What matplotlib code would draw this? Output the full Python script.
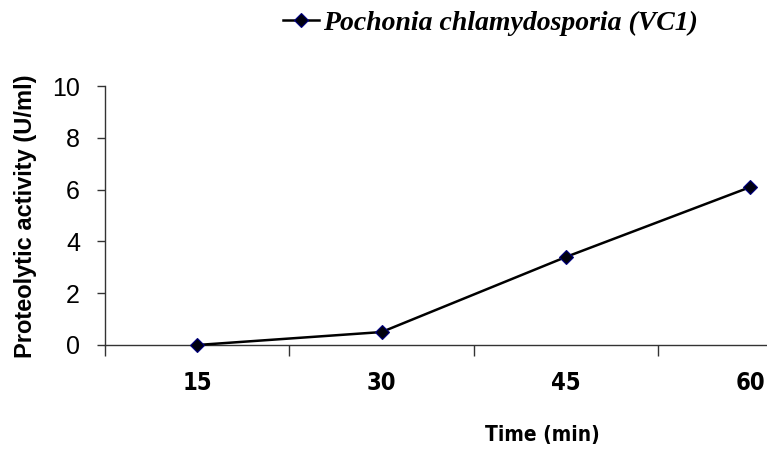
import matplotlib
matplotlib.use("Agg")
import matplotlib.pyplot as plt
import numpy as np

categories = ["15", "30", "45", "60"]
activity = [0.0, 0.5, 3.4, 6.1]
series_name = "Pochonia chlamydosporia (VC1)"
y_ticks = [0, 2, 4, 6, 8, 10]

W, H = 767, 453
fig = plt.figure(figsize=(W / 100, H / 100), dpi=100)
ax = fig.add_axes([105 / W, (H - 345) / H, (W - 105) / W, (345 - 86) / H])

x = np.arange(len(categories))
line, = ax.plot(x, activity, color="black", lw=1.8, marker="D", markersize=7.5,
                markerfacecolor="#000010", markeredgecolor="#000080", markeredgewidth=0.8,
                clip_on=False, zorder=5)

narrow = dict(family="DejaVu Sans", stretch="condensed", fontweight="bold")

ax.set_yticks(y_ticks)
ax.set_yticklabels([str(v) for v in y_ticks], fontsize=18, family="Liberation Sans")
ax.tick_params(axis="y", direction="out", length=6, width=1, pad=12, color="#333333")

ax.set_xticks(x)
ax.set_xticklabels(categories, fontsize=17, **narrow)
ax.tick_params(axis="x", which="major", length=0, pad=19)
ax.set_xticks(np.arange(-0.5, len(categories), 1), minor=True)
ax.tick_params(axis="x", which="minor", direction="out", length=8, width=1, color="#333333")

ax.set_ylim(0, 10)
ax.set_xlim(-0.5, 3.09)

for s in ["top", "right"]:
    ax.spines[s].set_visible(False)
for s in ["left", "bottom"]:
    ax.spines[s].set_linewidth(1)
    ax.spines[s].set_color("#333333")

fig.text(26 / W, 1 - 216 / H, "Proteolytic activity (U/ml)", rotation=90, ha="center", va="center",
         fontsize=17, fontweight="bold", family="Liberation Sans")
fig.text(542 / W, 1 - 435 / H, "Time (min)", ha="center", va="center", fontsize=15, **narrow)

leg = fig.legend([line], [series_name], loc="center left", bbox_to_anchor=(283 / W, 1 - 23 / H),
                 frameon=False, handlelength=1.3, handletextpad=0.15, borderpad=0, borderaxespad=0,
                 prop={"family": "Liberation Serif", "style": "italic", "weight": "bold", "size": 20})

fig.savefig("out.png", dpi=100)
